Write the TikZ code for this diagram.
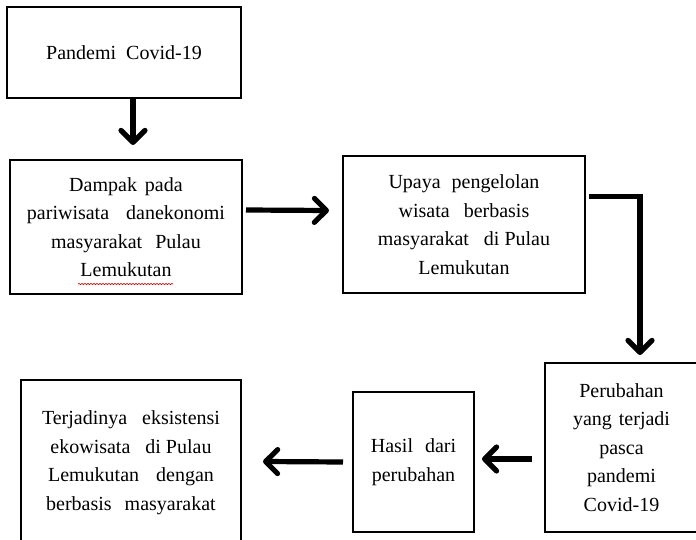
\documentclass[tikz,border=0pt]{standalone}
\usepackage{fontspec}
\setmainfont{Liberation Serif}
\usetikzlibrary{arrows.meta,calc,decorations.pathmorphing}

\tikzset{every picture/.style={line width=0.75pt}}
\tikzset{
  box/.style={draw, line width=2.6pt, align=center, inner sep=0pt, outer sep=0pt,
    font=\fontsize{20}{28.5}\selectfont},
  flow/.style={line width=5.2pt, line join=miter,
    -{Straight Barb[length=12pt,width=24pt,round]}},
  spellmark/.style={red!85!black, line width=0.6pt, decorate,
    decoration={snake, amplitude=0.7pt, segment length=3pt}},
}

\begin{document}
\begin{tikzpicture}[x=1pt,y=1pt,yscale=-1]
\useasboundingbox (0,0) rectangle (696,540);

% Boxes
\node[box, minimum width=234, minimum height=91] (pandemi) at (124,52.5)
  {Pandemi\hspace{5pt} Covid-19};
\node[box, minimum width=232, minimum height=134] (dampak) at (126,227)
  {Dampak\hspace{3pt} pada\\ pariwisata\hspace{12pt} danekonomi\\ masyarakat\hspace{8pt} Pulau\\ Lemukutan};
\node[box, minimum width=242, minimum height=137] (upaya) at (464,224.5)
  {Upaya\hspace{6pt} pengelolan\\ wisata\hspace{9pt} berbasis\\ masyarakat\hspace{10pt} di Pulau\\ Lemukutan};
\node[box, minimum width=153, minimum height=169] (perubahan) at (621.5,447.5)
  {Perubahan\\ yang\hspace{2pt} terjadi\\ pasca\\ pandemi\\ Covid-19};
\node[box, minimum width=121, minimum height=140] (hasil) at (413.5,462)
  {Hasil\hspace{7pt} dari\\ perubahan};
\node[box, minimum width=220, minimum height=165] (eksis) at (131,462.5)
  {Terjadinya\hspace{10pt} eksistensi\\ ekowisata\hspace{10pt} di Pulau\\ Lemukutan\hspace{12pt} dengan\\ berbasis\hspace{8pt} masyarakat};

% spelling mark under Lemukutan
\draw[spellmark] (78,284) -- (173,284);

% Arrows
\coordinate (a1) at (133,145);
\draw[flow] (pandemi.south -| a1) -- (a1);
\draw[flow] ($(dampak.east)+(4,-17)$) -- ($(upaya.west)+(-14,-14)$);
\draw[flow] ($(upaya.east)+(4,-28)$) -| ($(perubahan.north)+(18.5,-8)$);
\draw[flow] ($(perubahan.west)+(-13,11.5)$) -- ($(hasil.east)+(8,-3)$);
\draw[flow] ($(hasil.west)+(-10,0)$) -- ($(eksis.east)+(22,-1)$);

\end{tikzpicture}
\end{document}
